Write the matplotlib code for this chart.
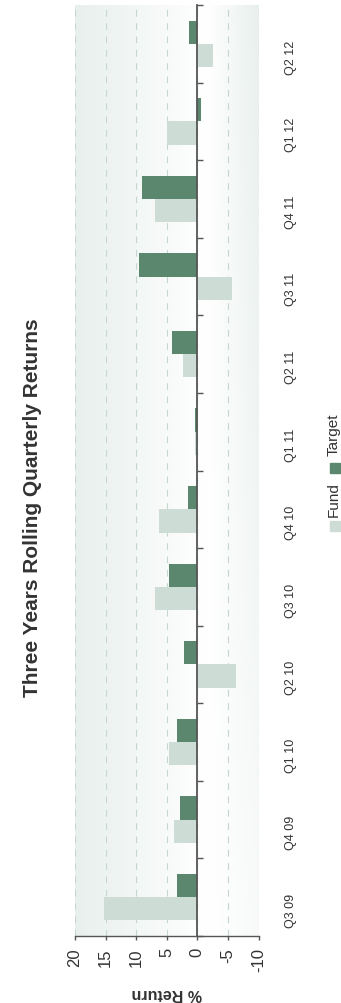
import numpy as np
import matplotlib
matplotlib.use('Agg')
import matplotlib.pyplot as plt
from matplotlib.patches import Rectangle

plt.rcParams['font.family'] = ['Liberation Sans', 'DejaVu Sans']

quarters = ['Q3 09', 'Q4 09', 'Q1 10', 'Q2 10', 'Q3 10', 'Q4 10',
            'Q1 11', 'Q2 11', 'Q3 11', 'Q4 11', 'Q1 12', 'Q2 12']
fund = [15.3, 3.8, 4.7, -6.4, 6.9, 6.2, 0.3, 2.3, -5.6, 6.9, 4.9, -2.5]
target = [3.4, 2.8, 3.3, 2.1, 4.7, 1.5, 0.4, 4.2, 9.5, 9.0, -0.6, 1.3]
value_ticks = [20, 15, 10, 5, 0, -5, -10]

fund_col = '#cddcd5'
target_col = '#5a876e'
text_col = '#333333'

fig = plt.figure(figsize=(3.41, 10.04), dpi=100)
ax = fig.add_axes([75 / 341, 67 / 1004, 183.5 / 341, 931 / 1004])

# background gradient (greenish at the edges, white towards the zero side)
u = np.linspace(0, 1, 200)[None, :]
v = np.linspace(0, 1, 200)[:, None]
f = np.clip(1 - u / 0.72, 0, 1) * 0.85 + np.clip((u - 0.72) / 0.28, 0, 1) * (0.25 + 0.6 * v)
green = np.array([228, 237, 233]) / 255.0
img = 1 - f[..., None] * (1 - green)
ax.imshow(img, extent=[0, 1, 0, 1], transform=ax.transAxes, origin='lower',
          aspect='auto', zorder=0, interpolation='bilinear')

y = np.arange(len(quarters))
h = 0.3
ax.barh(y - h / 2, fund, height=h, color=fund_col, zorder=3, label='Fund')
ax.barh(y + h / 2, target, height=h, color=target_col, zorder=3, label='Target')

ax.set_xlim(20, -10)
ax.set_ylim(-0.5, len(quarters) - 0.5)

# value axis
ax.set_xticks(value_ticks)
ax.set_xticklabels([str(t) for t in value_ticks], fontsize=12, color=text_col)
ax.tick_params(axis='x', direction='out', length=3, width=1, color='#555555',
               pad=5, labelrotation=90)
ax.grid(axis='x', color='#c5d6cf', lw=0.8, ls=(0, (6, 6)), zorder=1)
ax.set_axisbelow(True)

# category axis sits on the zero line
ax.set_yticks(np.arange(-0.5, len(quarters)), minor=False)
ax.set_yticks(y, minor=True)
ax.set_yticklabels(quarters, minor=True, fontsize=9, color=text_col)
ax.tick_params(axis='y', which='major', left=True, right=False, labelleft=False,
               labelright=False, direction='in', length=4, width=1, color='#555555')
ax.tick_params(axis='y', which='minor', left=False, right=False, labelleft=False,
               labelright=True, length=0, pad=19, labelrotation=90,
               labelsize=9, labelcolor=text_col)

for s in ['top', 'right']:
    ax.spines[s].set_visible(False)
ax.spines['left'].set_position(('data', 0))
ax.spines['left'].set_color('#555555')
ax.spines['left'].set_linewidth(1.3)
ax.spines['left'].set_zorder(4)
ax.spines['bottom'].set_color('#555555')
ax.spines['bottom'].set_linewidth(1.0)

ax.set_xlabel('% Return', rotation=180, fontsize=11.5, fontweight='bold',
              color=text_col, labelpad=10)

fig.text(33 / 341, 1 - 508 / 1004, 'Three Years Rolling Quarterly Returns',
         rotation=90, fontsize=15, fontweight='bold', color=text_col,
         ha='center', va='center')

# legend, drawn rotated by hand
for label, col, ysw, ytx in [('Fund', fund_col, 522, 500), ('Target', target_col, 464, 435)]:
    fig.patches.append(Rectangle((330 / 341, 1 - (ysw + 10) / 1004), 10 / 341, 10 / 1004,
                                 transform=fig.transFigure, color=col))
    fig.text(334 / 341, 1 - ytx / 1004, label, rotation=90, fontsize=11,
             color=text_col, ha='center', va='center')

fig.savefig('out.png', dpi=100)
